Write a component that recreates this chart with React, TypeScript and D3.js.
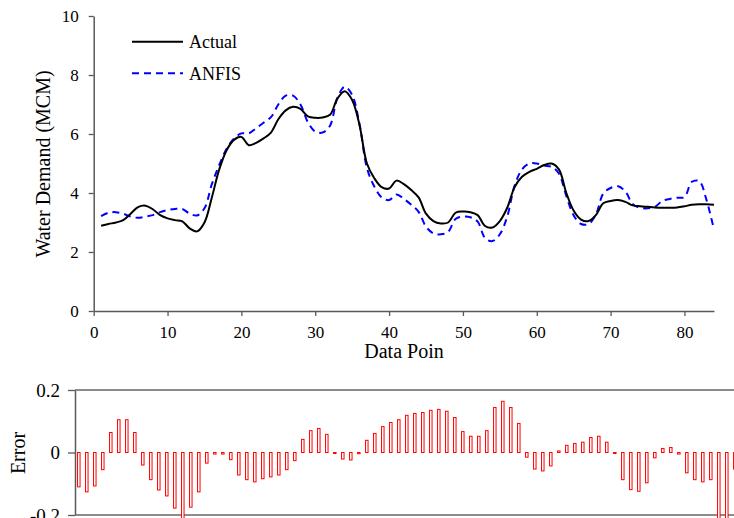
import React, { useEffect, useRef } from 'react';
import * as d3 from 'd3';

// data points 1..84
const actual = [
  2.89, 2.95, 3.0, 3.08, 3.3, 3.52, 3.57, 3.45, 3.25, 3.14,
  3.08, 3.04, 2.8, 2.7, 3.0, 3.85, 4.8, 5.45, 5.8, 5.9,
  5.62, 5.7, 5.85, 6.05, 6.5, 6.8, 6.92, 6.85, 6.6, 6.55,
  6.56, 6.65, 7.2, 7.45, 7.15, 6.3, 5.0, 4.5, 4.2, 4.15,
  4.42, 4.3, 4.1, 3.85, 3.3, 3.05, 2.97, 3.0, 3.33, 3.37,
  3.35, 3.25, 2.88, 2.83, 3.05, 3.5, 4.2, 4.55, 4.72, 4.82,
  4.95, 5.0, 4.8, 4.0, 3.4, 3.1, 3.05, 3.25, 3.65, 3.73,
  3.76, 3.7, 3.58, 3.55, 3.53, 3.51, 3.5, 3.5, 3.51, 3.55,
  3.6, 3.62, 3.62, 3.6,
];

const anfis = [
  3.22, 3.33, 3.35, 3.3, 3.2, 3.16, 3.2, 3.25, 3.35, 3.42,
  3.46, 3.46, 3.3, 3.24, 3.48, 4.3, 4.95, 5.5, 5.85, 6.02,
  6.02, 6.2, 6.38, 6.57, 7.0, 7.3, 7.3, 7.0, 6.4, 6.08,
  6.05, 6.28, 7.22, 7.6, 7.32, 6.33, 4.85, 4.22, 3.85, 3.76,
  3.95, 3.8, 3.6, 3.36, 2.86, 2.63, 2.6, 2.68, 3.12, 3.2,
  3.18, 3.03, 2.47, 2.37, 2.6, 3.2, 4.25, 4.8, 5.0, 5.0,
  4.93, 4.89, 4.66, 3.9, 3.24, 2.95, 2.95, 3.26, 3.98, 4.17,
  4.23, 4.05, 3.62, 3.5, 3.48, 3.53, 3.73, 3.8, 3.84, 3.86,
  4.38, 4.4, 3.75, 2.75,
];

// error bars visible in the lower panel (points 1..83)
const errors = [
  -0.11, -0.126, -0.107, -0.055, 0.064, 0.105, 0.105, 0.064, -0.04, -0.087,
  -0.12, -0.139, -0.178, -0.22, -0.175, -0.126, -0.034, -0.005, -0.005, -0.023,
  -0.072, -0.087, -0.094, -0.084, -0.078, -0.072, -0.055, -0.026, 0.042, 0.07,
  0.077, 0.058, -0.003, -0.021, -0.024, -0.004, 0.039, 0.061, 0.083, 0.096,
  0.105, 0.119, 0.125, 0.128, 0.135, 0.138, 0.132, 0.112, 0.067, 0.052,
  0.052, 0.07, 0.144, 0.164, 0.144, 0.093, -0.015, -0.053, -0.059, -0.043,
  0.005, 0.023, 0.029, 0.033, 0.048, 0.052, 0.033, -0.003, -0.087, -0.119,
  -0.124, -0.097, -0.017, 0.013, 0.016, -0.005, -0.065, -0.087, -0.094, -0.087,
  -0.25, -0.25, -0.053,
];

const yTicks = [0, 2, 4, 6, 8, 10];
const xTicks = [0, 10, 20, 30, 40, 50, 60, 70, 80];
const errTicks = [-0.2, 0, 0.2];

const FONT = '"Liberation Serif", "Times New Roman", serif';

export default function App() {
  const ref = useRef<SVGSVGElement>(null);

  useEffect(() => {
    const svg = d3.select(ref.current);
    svg.selectAll('*').remove();

    // ---- top panel
    const x = d3.scaleLinear().domain([0, 84]).range([93.7, 714]);
    const y = d3.scaleLinear().domain([0, 10]).range([311, 16]);

    const yAxis = d3.axisLeft(y).tickValues(yTicks).tickSize(5).tickSizeOuter(0).tickPadding(10)
      .tickFormat((d) => String(d));
    const xAxis = d3.axisBottom(x).tickValues(xTicks).tickSize(5).tickSizeOuter(0).tickPadding(10)
      .tickFormat((d) => String(d));

    svg.append('g').attr('class', 'axis top').attr('transform', 'translate(93.7,0)').call(yAxis);
    svg.append('g').attr('class', 'axis top').attr('transform', 'translate(0,311)').call(xAxis);

    const line = d3.line<number>()
      .x((d, i) => x(i + 1))
      .y((d) => y(d))
      .curve(d3.curveCatmullRom.alpha(0.5));

    svg.append('path').datum(anfis)
      .attr('d', line).attr('fill', 'none')
      .attr('stroke', '#0000ff').attr('stroke-width', 2).attr('stroke-dasharray', '7,5');
    svg.append('path').datum(actual)
      .attr('d', line).attr('fill', 'none')
      .attr('stroke', '#000').attr('stroke-width', 2);

    // legend
    const lg = svg.append('g');
    lg.append('line').attr('x1', 132).attr('x2', 183).attr('y1', 41.7).attr('y2', 41.7)
      .attr('stroke', '#000').attr('stroke-width', 2);
    lg.append('text').attr('x', 189).attr('y', 47.7).text('Actual');
    lg.append('line').attr('x1', 132).attr('x2', 183).attr('y1', 73.3).attr('y2', 73.3)
      .attr('stroke', '#0000ff').attr('stroke-width', 2).attr('stroke-dasharray', '7,5');
    lg.append('text').attr('x', 189).attr('y', 79.5).text('ANFIS');
    lg.selectAll('text').attr('font-family', FONT).attr('font-size', 18).attr('fill', '#000');

    svg.append('text')
      .attr('transform', 'translate(50,164) rotate(-90)')
      .attr('text-anchor', 'middle')
      .attr('font-family', FONT).attr('font-size', 20)
      .text('Water Demand (MCM)');
    svg.append('text')
      .attr('x', 404).attr('y', 358)
      .attr('text-anchor', 'middle')
      .attr('font-family', FONT).attr('font-size', 20)
      .text('Data Poin');

    // ---- error panel
    const xe = d3.scaleLinear().domain([1, 83]).range([78.8, 78.8 + 8 * 82]);
    const ye = d3.scaleLinear().domain([-0.2, 0.2]).range([515, 390]);

    const eAxis = d3.axisLeft(ye).tickValues(errTicks).tickSize(7).tickSizeOuter(0).tickPadding(8)
      .tickFormat((d) => String(d));
    svg.append('g').attr('class', 'axis err').attr('transform', 'translate(75,0)').call(eAxis);

    [0.2, -0.2].forEach((v) => {
      svg.append('line').attr('x1', 75).attr('x2', 734)
        .attr('y1', ye(v)).attr('y2', ye(v))
        .attr('stroke', '#666').attr('stroke-width', 1.5);
    });

    svg.append('g').selectAll('rect').data(errors).enter().append('rect')
      .attr('x', (d, i) => xe(i + 1) - 1.25)
      .attr('width', 2.5)
      .attr('y', (d) => Math.min(ye(d), ye(0)))
      .attr('height', (d) => Math.max(1, Math.abs(ye(d) - ye(0))))
      .attr('fill', '#fff')
      .attr('stroke', '#ff0000')
      .attr('stroke-width', 1);

    svg.append('text')
      .attr('transform', 'translate(25,453) rotate(-90)')
      .attr('text-anchor', 'middle')
      .attr('font-family', FONT).attr('font-size', 20)
      .text('Error');

    // axis styling
    svg.selectAll('.domain').attr('stroke', '#595959').attr('stroke-width', 1.5);
    svg.selectAll('.tick line').attr('stroke', '#595959').attr('stroke-width', 1.3);
    svg.selectAll('.tick text').attr('font-family', FONT).attr('fill', '#000');
    svg.selectAll('.axis.top').attr('font-size', 17);
    svg.selectAll('.axis.err').attr('font-size', 19);
  }, []);

  return (
    <svg
      ref={ref}
      width={734}
      height={518}
      style={{ position: 'absolute', left: 0, top: 0, background: '#fff' }}
    />
  );
}
